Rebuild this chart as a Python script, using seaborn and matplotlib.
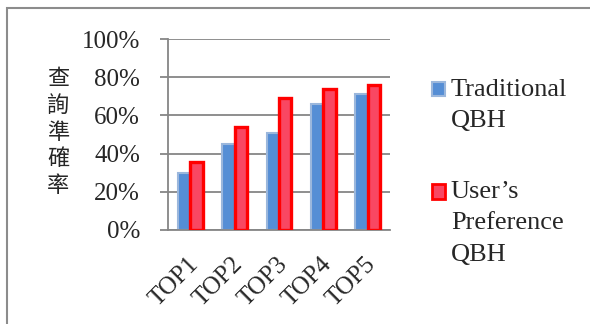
import matplotlib
matplotlib.use("Agg")
import matplotlib.pyplot as plt
import seaborn as sns
import pandas as pd
from matplotlib.patches import Rectangle
from matplotlib.legend_handler import HandlerPatch

categories = ["TOP1", "TOP2", "TOP3", "TOP4", "TOP5"]
traditional = [30, 45, 51, 66, 71]
preference = [35.5, 54, 69, 74, 76]
series_names = ["Traditional\nQBH", "User\u2019s\nPreference\nQBH"]
yticks = [0, 20, 40, 60, 80, 100]
ylabel = "查詢準確率"

df = pd.DataFrame({
    "cat": categories * 2,
    "val": traditional + preference,
    "series": [series_names[0]] * len(categories) + [series_names[1]] * len(categories),
})

sns.set_theme(style="white")
plt.rcParams["font.family"] = ["Liberation Serif", "DejaVu Serif"]

W, H = 590, 324
fig = plt.figure(figsize=(W / 100, H / 100), dpi=100)
ax = fig.add_axes([168 / W, 1 - 230 / H, 222 / W, 191 / H])

blue_face, blue_edge = "#558ED5", "#9BB7DC"
red_face, red_edge = "#F94762", "#FF0000"

sns.barplot(data=df, x="cat", y="val", hue="series", hue_order=series_names,
            palette=[blue_face, red_face], width=0.56, gap=0, ax=ax,
            legend=False, saturation=1)

n = len(categories)
for i, p in enumerate(ax.patches[:2 * n]):
    if i < n:
        p.set_edgecolor(blue_edge)
        p.set_linewidth(1.5)
        p.set_zorder(2)
    else:
        p.set_edgecolor(red_edge)
        p.set_linewidth(2.4)
        p.set_zorder(3)

ax.set_xlim(-0.5, n - 0.5)
ax.set_ylim(0, 100)
ax.set_yticks(yticks)
ax.set_yticklabels([f"{v}%" for v in yticks], fontsize=18)
ax.set_xticks(range(n))
ax.set_xticklabels(categories, fontsize=18, rotation=45, ha="right",
                   rotation_mode="anchor")
ax.tick_params(axis="y", which="both", left=True, length=6, width=1.3,
               color="#868686", pad=14)
ax.tick_params(axis="x", bottom=False, pad=10)
for lab in ax.get_xticklabels():
    lab.set_transform(lab.get_transform() +
                      matplotlib.transforms.ScaledTranslation(-3 / 100, -1 / 100, fig.dpi_scale_trans))

ax.grid(axis="y", color="#868686", linewidth=1.3)
ax.set_axisbelow(True)
for s in ["top", "right"]:
    ax.spines[s].set_visible(False)
ax.spines["left"].set_color("#868686")
ax.spines["left"].set_linewidth(1.3)
ax.spines["bottom"].set_color("#868686")
ax.spines["bottom"].set_linewidth(1.3)

ax.set_xlabel("")
ax.set_ylabel("\n".join(ylabel), rotation=0, fontsize=16, linespacing=1.2,
              family=["Noto Sans CJK TC", "DejaVu Sans"], ha="center", va="center")
ax.yaxis.set_label_coords((58 - 168) / 222, (230 - 132) / 191)

fs = 19
leg_ls = 1.54
pitch_pt = 31.5 * 0.72  # line pitch in points


def make_patch_func(nlines):
    def f(legend, orig_handle, xdescent, ydescent, width, height, fontsize):
        shift = (nlines - 1) / 2 * pitch_pt
        return Rectangle((-xdescent, -ydescent + shift), width, height)
    return f


h1 = Rectangle((0, 0), 1, 1, facecolor=blue_face, edgecolor=blue_edge, linewidth=1.5)
h2 = Rectangle((0, 0), 1, 1, facecolor=red_face, edgecolor=red_edge, linewidth=2)
leg = fig.legend([h1, h2], series_names, loc="upper left",
                 bbox_to_anchor=(432 / W, 1 - 79 / H), frameon=False,
                 fontsize=fs, handlelength=0.49, handleheight=0.49,
                 handletextpad=0.22, labelspacing=1.86, borderpad=0, borderaxespad=0,
                 handler_map={h1: HandlerPatch(patch_func=make_patch_func(2)),
                              h2: HandlerPatch(patch_func=make_patch_func(3))})
for t in leg.get_texts():
    t.set_linespacing(leg_ls)

fig.patches.append(Rectangle((6.5 / W, -0.1), 1.2, 1 - 8.5 / H + 0.1,
                             transform=fig.transFigure, fill=False,
                             edgecolor="#8C8C8C", linewidth=1.5))

fig.savefig("out.png", dpi=100)
